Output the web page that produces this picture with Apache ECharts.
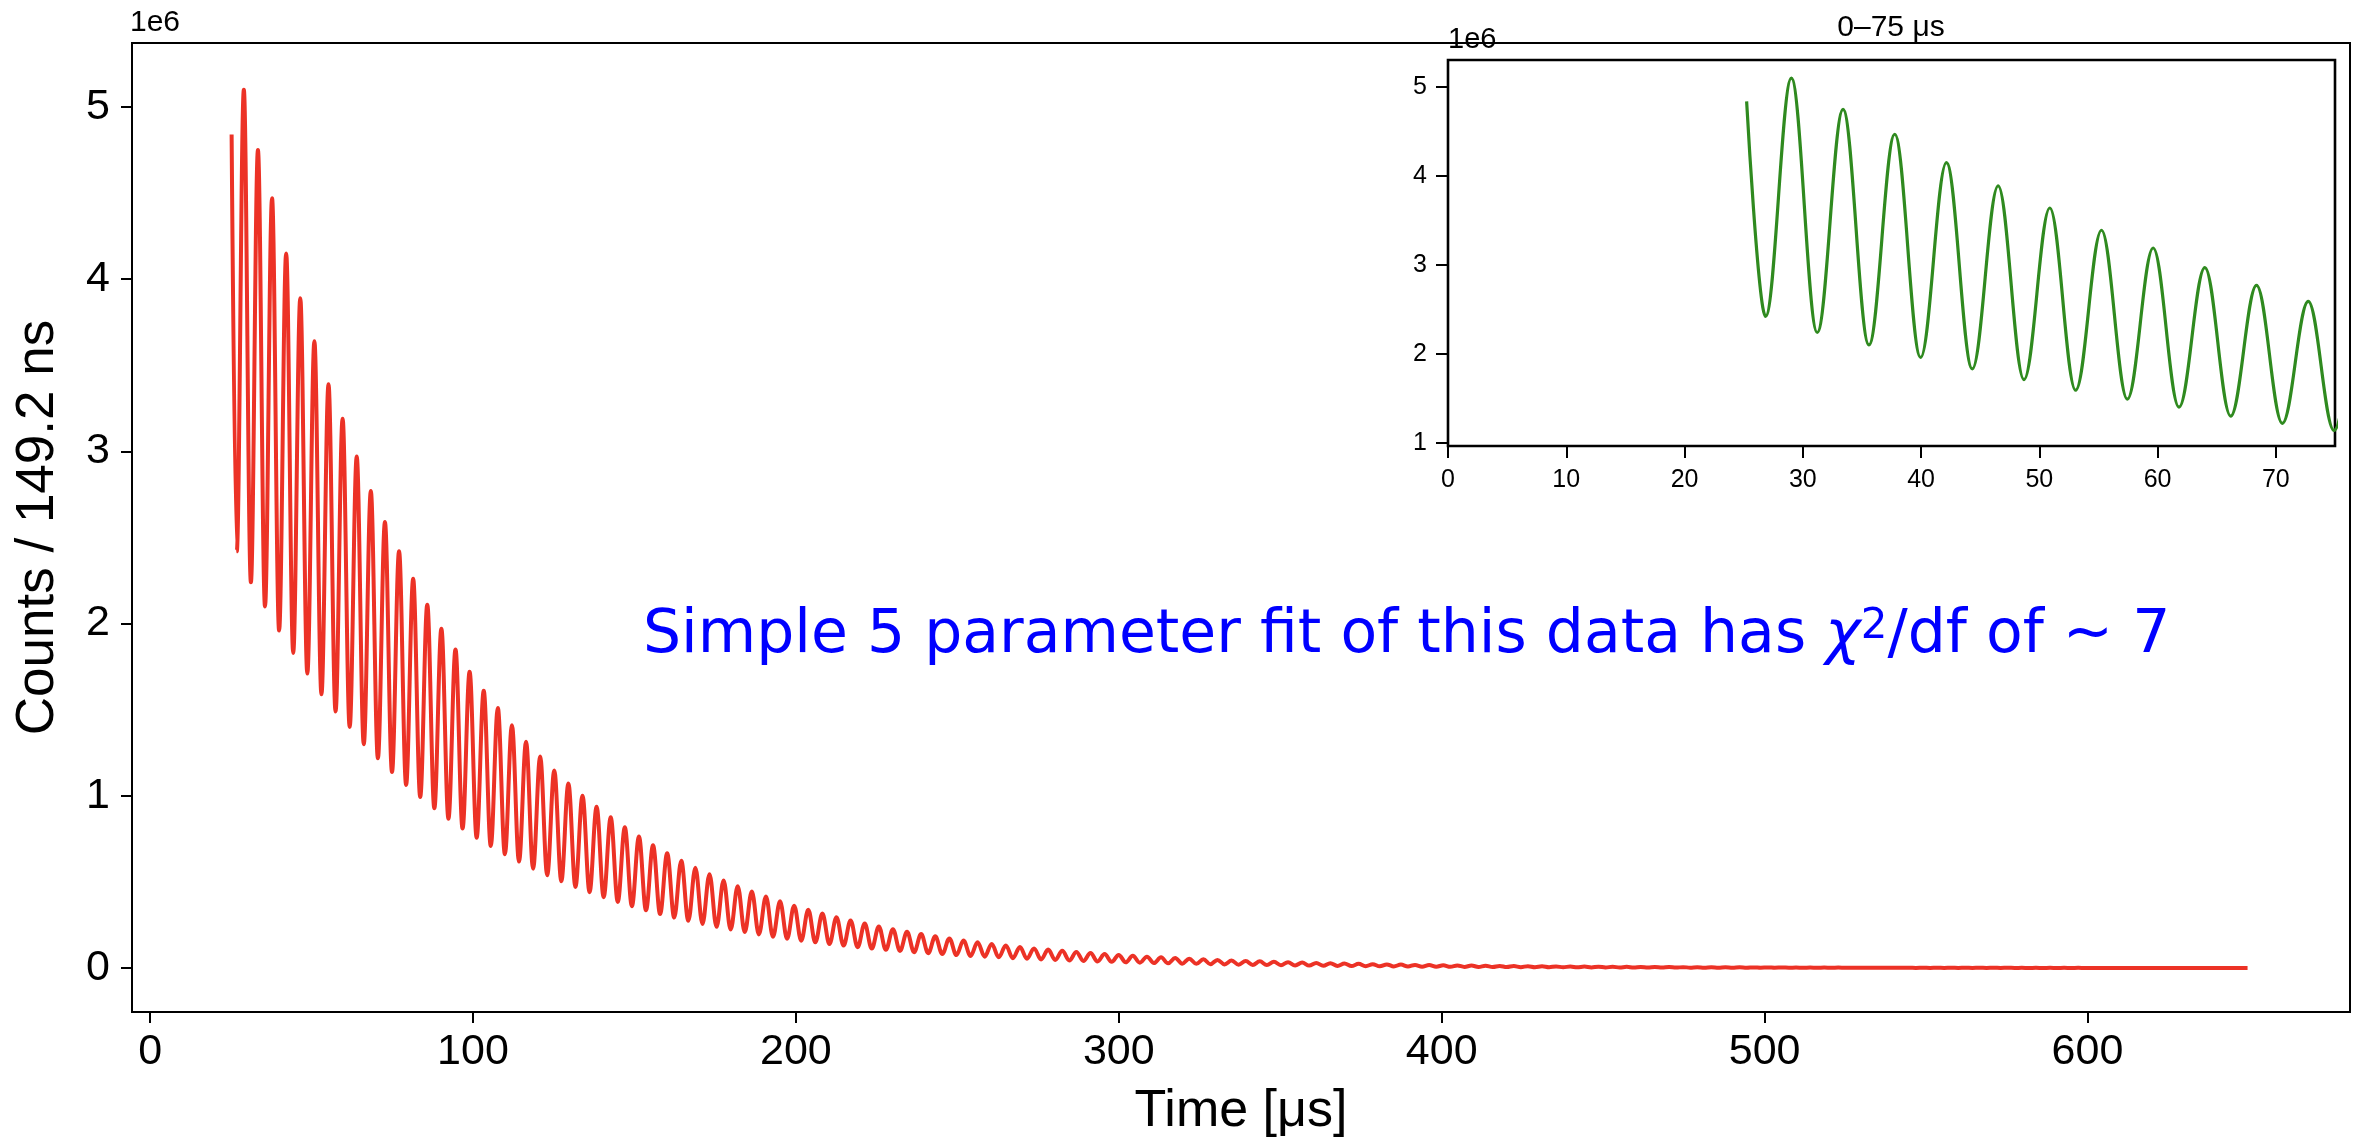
<!DOCTYPE html>
<html>
<head>
<meta charset="utf-8">
<style>
html, body { margin: 0; padding: 0; background: #fff; }
#chart { width: 2362px; height: 1143px; }
</style>
<script src="https://cdn.jsdelivr.net/npm/echarts@6/dist/echarts.min.js"></script>
</head>
<body>
<div id="chart"></div>
<script>
// counts per 149.2 ns bin, in units of 1e6
var startPoint = [25.25, 4.84];
var firstTrough = 26.85;   // us
var period = 4.37;         // us, trough to trough

// successive minima of the wiggle
var troughs = [
    2.42, 2.24, 2.10, 1.96, 1.83, 1.71, 1.59, 1.49, 1.40, 1.30,
    1.218, 1.138, 1.063, 0.993, 0.928, 0.867, 0.810, 0.757, 0.708, 0.661,
    0.618, 0.577, 0.539, 0.504, 0.471, 0.440, 0.411, 0.384, 0.359, 0.335,
    0.313, 0.293, 0.274, 0.256, 0.239, 0.223, 0.209, 0.195, 0.182, 0.170,
    0.159, 0.149, 0.139, 0.130, 0.121, 0.113, 0.106, 0.099, 0.092, 0.086,
    0.081, 0.075, 0.070, 0.066, 0.062, 0.057, 0.054, 0.050, 0.047, 0.044,
    0.041, 0.038, 0.036, 0.033, 0.031, 0.029, 0.027, 0.025, 0.024, 0.022,
    0.021, 0.019, 0.018, 0.017, 0.016, 0.015, 0.014, 0.013, 0.012, 0.011,
    0.0105, 0.0098, 0.0092, 0.0086, 0.0080, 0.0075, 0.0070, 0.0065, 0.0061, 0.0057,
    0.0053, 0.0050, 0.0047, 0.0044, 0.0041, 0.0038, 0.0036, 0.0033, 0.0031, 0.0029,
    0.0027, 0.0025, 0.0024, 0.0022, 0.0021, 0.0019, 0.0018, 0.0017, 0.0016, 0.0015,
    0.0014, 0.0013, 0.0012, 0.0011, 0.0010, 0.0010, 0.0009, 0.0009, 0.0008, 0.0007,
    0.0007, 0.0007, 0.0006, 0.0006, 0.0005, 0.0005, 0.0005, 0.0004, 0.0004, 0.0004,
    0.0004, 0.0003, 0.0003, 0.0003, 0.0003, 0.0003, 0.0002, 0.0002, 0.0002, 0.0002,
    0.0002, 0.0002, 0.0002
];

// successive maxima of the wiggle
var peaks = [
    5.10, 4.75, 4.47, 4.15, 3.89, 3.64, 3.39, 3.19, 2.97, 2.77,
    2.59, 2.42, 2.26, 2.11, 1.97, 1.85, 1.72, 1.61, 1.51, 1.41,
    1.314, 1.228, 1.147, 1.072, 1.001, 0.936, 0.875, 0.817, 0.764, 0.713,
    0.667, 0.623, 0.582, 0.544, 0.508, 0.475, 0.444, 0.415, 0.387, 0.362,
    0.338, 0.316, 0.295, 0.276, 0.258, 0.241, 0.225, 0.210, 0.197, 0.184,
    0.172, 0.160, 0.150, 0.140, 0.131, 0.122, 0.114, 0.107, 0.100, 0.093,
    0.087, 0.081, 0.076, 0.071, 0.066, 0.062, 0.058, 0.054, 0.051, 0.047,
    0.044, 0.041, 0.039, 0.036, 0.034, 0.032, 0.029, 0.028, 0.026, 0.024,
    0.022, 0.021, 0.020, 0.018, 0.017, 0.016, 0.015, 0.014, 0.013, 0.012,
    0.0114, 0.0106, 0.0099, 0.0093, 0.0087, 0.0081, 0.0076, 0.0071, 0.0066, 0.0062,
    0.0058, 0.0054, 0.0050, 0.0047, 0.0044, 0.0041, 0.0038, 0.0036, 0.0034, 0.0031,
    0.0029, 0.0027, 0.0026, 0.0024, 0.0022, 0.0021, 0.0019, 0.0018, 0.0017, 0.0016,
    0.0015, 0.0014, 0.0013, 0.0012, 0.0011, 0.0011, 0.0010, 0.0009, 0.0009, 0.0008,
    0.0008, 0.0007, 0.0007, 0.0006, 0.0006, 0.0005, 0.0005, 0.0005, 0.0004, 0.0004,
    0.0004, 0.0004, 0.0003
];

var xTicks = [0, 100, 200, 300, 400, 500, 600];
var yTicks = [0, 1, 2, 3, 4, 5];
var insetXTicks = [0, 10, 20, 30, 40, 50, 60, 70];
var insetYTicks = [1, 2, 3, 4, 5];

// one point per extremum, troughs and peaks alternating half a period apart
var wiggle = [startPoint];
for (var k = 0; k < troughs.length; k++) {
    wiggle.push([firstTrough + k * period, troughs[k]]);
    wiggle.push([firstTrough + period / 2 + k * period, peaks[k]]);
}

var sans = 'Liberation Sans, Arial, Helvetica, sans-serif';
var blue = '#0000ff';

function valueAxis(grid, min, max, ticks, fontSize, margin, tickLen) {
    return {
        type: 'value',
        gridIndex: grid,
        min: min,
        max: max,
        axisLine: { show: false, onZero: false },
        splitLine: { show: false },
        axisTick: {
            show: true,
            inside: false,
            length: tickLen,
            customValues: ticks,
            lineStyle: { color: '#000', width: 2 }
        },
        axisLabel: {
            customValues: ticks,
            fontSize: fontSize,
            fontFamily: sans,
            color: '#000',
            margin: margin
        }
    };
}

var myChart = echarts.init(document.getElementById('chart'));

var xMain = valueAxis(0, -5.6, 681.3, xTicks, 43, 19, 11);
xMain.name = 'Time [μs]';
xMain.nameLocation = 'middle';
xMain.nameGap = 74;
xMain.nameTextStyle = { fontSize: 52, fontFamily: sans, color: '#000' };

var yMain = valueAxis(0, -0.2555, 5.372, yTicks, 43, 22, 11);
yMain.name = 'Counts / 149.2 ns';
yMain.nameLocation = 'middle';
yMain.nameGap = 67;
yMain.nameTextStyle = { fontSize: 53, fontFamily: sans, color: '#000' };

var xInset = valueAxis(1, 0, 75, insetXTicks, 25, 22, 12);
var yInset = valueAxis(1, 0.963, 5.305, insetYTicks, 25, 21, 12);

var option = {
    animation: false,
    backgroundColor: '#fff',
    grid: [
        { left: 132, top: 43, width: 2218, height: 969, show: true,
          borderColor: '#000', borderWidth: 2, backgroundColor: '#fff' },
        { left: 1448, top: 60, width: 887, height: 386, show: true,
          borderColor: '#000', borderWidth: 2.6, backgroundColor: '#fff' }
    ],
    xAxis: [xMain, xInset],
    yAxis: [yMain, yInset],
    series: [
        {
            name: 'main',
            type: 'line',
            xAxisIndex: 0,
            yAxisIndex: 0,
            data: wiggle,
            showSymbol: false,
            smooth: 0.363,
            smoothMonotone: 'x',
            lineStyle: { color: '#ec3226', width: 4 }
        },
        {
            name: 'inset',
            type: 'line',
            xAxisIndex: 1,
            yAxisIndex: 1,
            data: wiggle,
            showSymbol: false,
            smooth: 0.363,
            smoothMonotone: 'x',
            clip: true,
            lineStyle: { color: '#2f8a1f', width: 3.2 }
        }
    ],
    graphic: [
        { type: 'text', x: 130, y: 23, style: {
            text: '1e6', fontSize: 30, fontFamily: sans, fill: '#000',
            textAlign: 'left', textVerticalAlign: 'middle', align: 'left', verticalAlign: 'middle' } },
        { type: 'text', x: 1448, y: 40, z: 10, style: {
            text: '1e6', fontSize: 29, fontFamily: sans, fill: '#000',
            textAlign: 'left', textVerticalAlign: 'middle', align: 'left', verticalAlign: 'middle' } },
        { type: 'text', x: 1891, y: 28, style: {
            text: '0–75 μs', fontSize: 30, fontFamily: sans, fill: '#000',
            textAlign: 'center', textVerticalAlign: 'middle', align: 'center', verticalAlign: 'middle' } },
        { type: 'text', x: 643, y: 636, z: 10, style: {
            text: '{n|Simple 5 parameter fit of this data has }{c|χ}{s|2}{n|/df of ~ 7}',
            textAlign: 'left', textVerticalAlign: 'middle', align: 'left', verticalAlign: 'middle',
            rich: {
                n: { fontSize: 60, fontFamily: 'DejaVu Sans', fill: blue, color: blue },
                c: { fontSize: 60, fontFamily: 'DejaVu Sans', fontStyle: 'italic', fill: blue, color: blue },
                s: { fontSize: 42, fontFamily: 'DejaVu Sans', fill: blue, color: blue, verticalAlign: 'top' }
            }
        } }
    ]
};

myChart.setOption(option);
</script>
</body>
</html>
